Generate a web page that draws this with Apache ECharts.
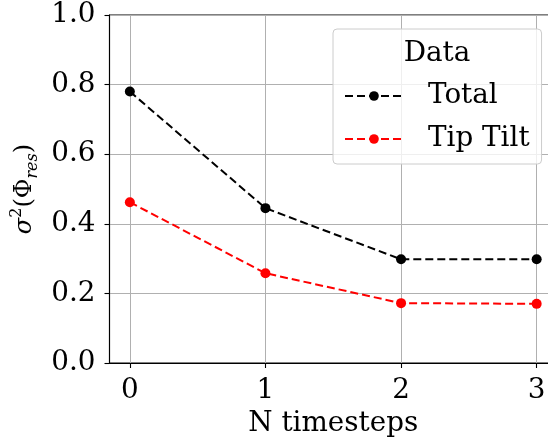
<!DOCTYPE html>
<html>
<head>
<meta charset="utf-8">
<script src="https://cdn.jsdelivr.net/npm/echarts@6/dist/echarts.min.js"></script>
<style>html,body{margin:0;padding:0;background:#fff}#c{width:548px;height:441px}</style>
</head>
<body>
<div id="c"></div>
<script>
const steps = [0, 1, 2, 3];
const totalValues = [0.780, 0.445, 0.298, 0.298];
const tipTiltValues = [0.462, 0.258, 0.172, 0.170];
const yTicks = [0, 0.2, 0.4, 0.6, 0.8, 1.0];
const xTicks = [0, 1, 2, 3];
const seriesNames = ['Total', 'Tip Tilt'];
const legendTitle = 'Data';

const FONT = 'DejaVu Serif';
const FS = 27.8;
const chart = echarts.init(document.getElementById('c'), null, {renderer: 'canvas'});

function pairs(xs, ys) { return xs.map((x, i) => [x, ys[i]]); }

const option = {
  backgroundColor: '#fff',
  animation: false,
  grid: {left: 109.5, top: 15, width: 447.5, height: 348, show: true, borderColor: '#000', borderWidth: 1.1,
         backgroundColor: 'transparent', outerBoundsMode: 'none', containLabel: false},
  xAxis: {
    type: 'value', min: -0.15, max: 3.15,
    name: 'N timesteps', nameLocation: 'middle', nameGap: 43,
    nameTextStyle: {fontFamily: FONT, fontSize: FS, color: '#000'},
    axisLine: {show: true, onZero: false, lineStyle: {color: '#000', width: 1.1}},
    axisTick: {show: true, inside: false, length: 5, customValues: xTicks, lineStyle: {color: '#000', width: 1.1}},
    axisLabel: {customValues: xTicks, margin: 14, fontFamily: FONT, fontSize: FS, color: '#000', formatter: v => String(v)},
    splitLine: {show: true, customValues: xTicks, lineStyle: {color: '#b0b0b0', width: 1}}
  },
  yAxis: {
    type: 'value', min: 0, max: 1, interval: 0.2,
    name: '{i|σ}{sup|2}{n|(Φ}{sub|res}{n|)}', nameLocation: 'middle', nameGap: 57, nameRotate: 90,
    nameTextStyle: {
      fontFamily: FONT, fontSize: 24, color: '#000', lineHeight: 32,
      rich: {
        i: {fontFamily: FONT, fontStyle: 'italic', fontSize: 24, color: '#000'},
        sup: {fontFamily: FONT, fontSize: 16, color: '#000', verticalAlign: 'top'},
        n: {fontFamily: FONT, fontSize: 24, color: '#000'},
        sub: {fontFamily: FONT, fontStyle: 'italic', fontSize: 16, color: '#000', verticalAlign: 'bottom'}
      }
    },
    axisLine: {show: true, onZero: false, lineStyle: {color: '#000', width: 1.1}},
    axisTick: {show: true, inside: false, length: 5, lineStyle: {color: '#000', width: 1.1}},
    axisLabel: {margin: 14, padding: [6, 0, 0, 0], fontFamily: FONT, fontSize: FS, color: '#000', formatter: v => v.toFixed(1)},
    splitLine: {show: true, lineStyle: {color: '#b0b0b0', width: 1}}
  },
  legend: {
    orient: 'vertical', left: 333, top: 29,
    padding: [52, 12, 10, 11],
    backgroundColor: 'rgba(255,255,255,0.8)', borderColor: '#cccccc', borderWidth: 1, borderRadius: 4,
    itemWidth: 58, itemHeight: 12, itemGap: 13,
    textStyle: {fontFamily: FONT, fontSize: FS, color: '#000', lineHeight: 30, padding: [0, 0, 0, 20]},
    data: seriesNames
  },
  graphic: [{
    type: 'text', x: 437, y: 54, z: 100,
    style: {text: legendTitle, fontFamily: FONT, fontSize: FS, fill: '#000', textAlign: 'center', textVerticalAlign: 'middle'}
  }],
  series: [
    {name: seriesNames[0], type: 'line', data: pairs(steps, totalValues), symbol: 'circle', symbolSize: 10,
     itemStyle: {color: '#000'}, lineStyle: {color: '#000', width: 2, type: [8, 4]}},
    {name: seriesNames[1], type: 'line', data: pairs(steps, tipTiltValues), symbol: 'circle', symbolSize: 10,
     itemStyle: {color: '#ff0000'}, lineStyle: {color: '#ff0000', width: 2, type: [8, 4]}}
  ]
};
chart.setOption(option);
</script>
</body>
</html>
